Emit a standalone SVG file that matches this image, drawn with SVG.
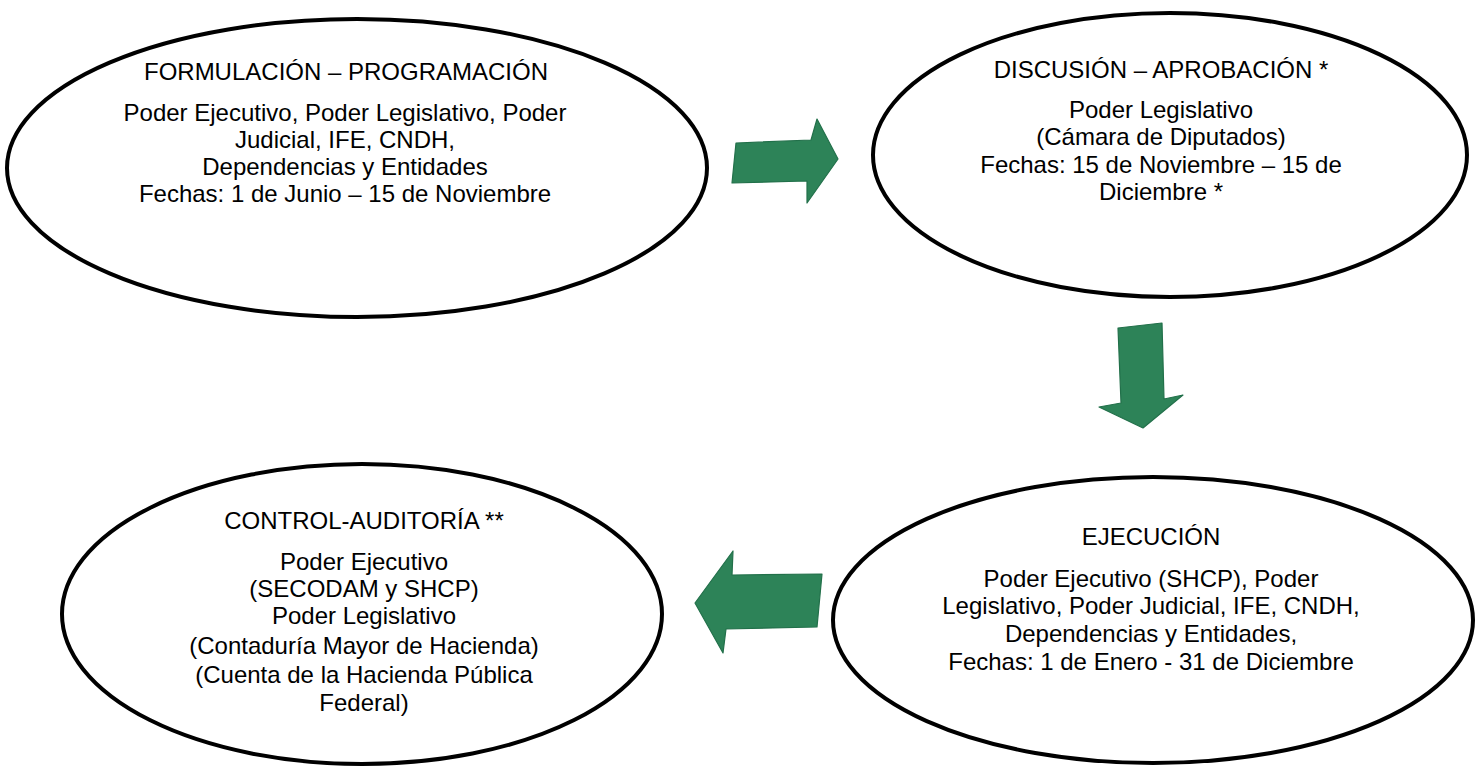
<svg xmlns="http://www.w3.org/2000/svg" width="1478" height="767" viewBox="0 0 1478 767">
<style>
.node ellipse{fill:#ffffff;stroke:#000000;stroke-width:4}
.node text{font-family:"Liberation Sans",Arial,sans-serif;font-size:24px;fill:#000000;text-anchor:middle}
.arrow{fill:#2d8358;stroke:#22704a;stroke-width:1.2;stroke-linejoin:round}
</style>
<rect width="1478" height="767" fill="#ffffff"/>
<g id="connectors">
<polygon class="arrow" points="736,143 811,140 817,119 838,159 807,203 807,181 732,183"/>
<polygon class="arrow" points="1118,328 1162,323 1164,399 1183,395 1143,428 1099,407 1121,403"/>
<polygon class="arrow" points="695,603 733,551 732,575 822,574 817,627 726,629 723,653"/>
</g>
<g id="formulacion" class="node">
<ellipse cx="357" cy="168" rx="350" ry="149"/>
<text x="346" y="80">FORMULACIÓN – PROGRAMACIÓN</text>
<text x="345" y="121">Poder Ejecutivo, Poder Legislativo, Poder</text>
<text x="345" y="148">Judicial, IFE, CNDH,</text>
<text x="345" y="175">Dependencias y Entidades</text>
<text x="345" y="202">Fechas: 1 de Junio – 15 de Noviembre</text>
</g>
<g id="discusion" class="node">
<ellipse cx="1170" cy="155" rx="297" ry="142"/>
<text x="1161" y="78">DISCUSIÓN – APROBACIÓN *</text>
<text x="1161" y="118">Poder Legislativo</text>
<text x="1161" y="145">(Cámara de Diputados)</text>
<text x="1161" y="173">Fechas: 15 de Noviembre – 15 de</text>
<text x="1161" y="200">Diciembre *</text>
</g>
<g id="ejecucion" class="node">
<ellipse cx="1153" cy="620" rx="320" ry="143"/>
<text x="1151" y="545">EJECUCIÓN</text>
<text x="1151" y="587">Poder Ejecutivo (SHCP), Poder</text>
<text x="1151" y="614">Legislativo, Poder Judicial, IFE, CNDH,</text>
<text x="1151" y="642">Dependencias y Entidades,</text>
<text x="1151" y="670">Fechas: 1 de Enero - 31 de Diciembre</text>
</g>
<g id="control" class="node">
<ellipse cx="362" cy="614" rx="300" ry="150"/>
<text x="364" y="529">CONTROL-AUDITORÍA **</text>
<text x="364" y="570">Poder Ejecutivo</text>
<text x="364" y="597">(SECODAM y SHCP)</text>
<text x="364" y="624">Poder Legislativo</text>
<text x="364" y="654">(Contaduría Mayor de Hacienda)</text>
<text x="364" y="683">(Cuenta de la Hacienda Pública</text>
<text x="364" y="711">Federal)</text>
</g>
</svg>
